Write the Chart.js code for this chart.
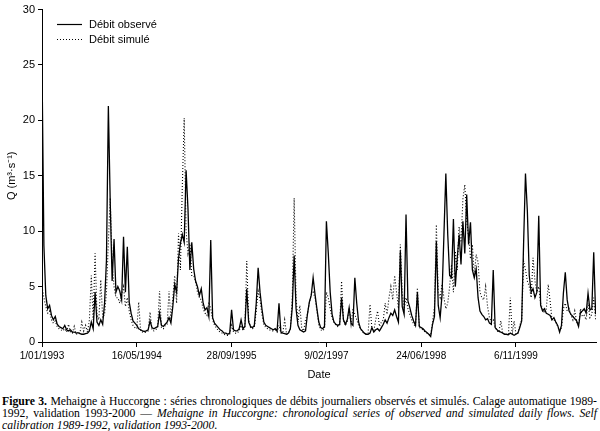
<!DOCTYPE html>
<html>
<head>
<meta charset="utf-8">
<script src="https://cdn.jsdelivr.net/npm/chart.js@4"></script>
<style>
  html, body { margin: 0; padding: 0; background: #fff; overflow: hidden; }
  #wrap { width: 600px; height: 431px; position: relative; }
  #caption { font-family: "Liberation Serif", "Times New Roman", serif; font-size: 11.7px; line-height: 12px; color: #000; padding: 0 3px 0 2px; margin-top: 6px; }
  .jl { text-align: justify; text-align-last: justify; white-space: nowrap; }
</style>
</head>
<body>
<div id="wrap">
  <canvas id="myChart" width="600" height="390"></canvas>
  <div id="caption">
    <div class="jl"><b>Figure 3.</b> Mehaigne à Huccorgne : séries chronologiques de débits journaliers observés et simulés. Calage automatique 1989-</div>
    <div class="jl">1992, validation 1993-2000 — <i>Mehaigne in Huccorgne: chronological series of observed and simulated daily flows. Self</i></div>
    <div><i>calibration 1989-1992, validation 1993-2000</i>.</div>
  </div>
</div>
<script>
'use strict'

// one value every 10 days from 1/01/1993 (m3/s)
let stepDays = 10;

let observed = [
  25.0, 8.7, 4.2, 3.0, 3.3, 2.4, 2.0, 2.3, 1.6, 1.4,
  1.3, 1.2, 1.5, 1.1, 1.0, 1.1, 0.9, 0.9, 0.8, 0.85,
  0.75, 0.7, 0.7, 0.75, 0.8, 1.0, 1.8, 1.2, 4.5, 1.8,
  1.5, 2.0, 1.6, 3.5, 7.4, 21.3, 12.5, 5.5, 9.3, 4.5,
  5.0, 4.6, 3.8, 9.5, 4.5, 8.6, 3.6, 2.6, 1.9, 1.7,
  1.5, 1.2, 1.1, 1.0, 0.95, 1.0, 1.1, 1.9, 1.3, 1.2,
  1.3, 1.4, 2.6, 1.5, 1.4, 1.6, 1.8, 2.2, 1.7, 3.2,
  5.2, 4.5, 7.5, 8.9, 9.7, 9.0, 15.5, 12.0, 6.5, 9.0,
  6.6, 5.5, 5.0, 4.2, 4.8, 3.5, 2.9, 3.1, 2.3, 9.2,
  2.2, 1.7, 1.5, 1.3, 1.1, 1.0, 0.8, 0.8, 0.7, 0.8,
  2.9, 1.1, 1.0, 1.0, 1.2, 2.0, 1.2, 1.4, 4.8, 1.8,
  1.4, 1.3, 1.5, 3.5, 6.7, 4.5, 3.0, 1.8, 1.5, 1.4,
  1.3, 1.2, 1.1, 1.2, 1.0, 3.5, 0.9, 0.8, 0.75, 0.7,
  0.8, 1.2, 3.1, 7.8, 3.0, 1.5, 1.1, 1.0, 0.9, 1.0,
  2.5, 3.6, 4.2, 5.8, 4.3, 3.0, 1.8, 1.3, 1.2, 1.4,
  10.9, 8.0, 4.5, 2.5, 1.8, 1.6, 1.5, 1.6, 4.0, 2.0,
  1.6, 2.0, 3.1, 1.7, 1.5, 5.8, 3.5, 1.8, 1.2, 1.0,
  0.8, 0.7, 0.7, 0.8, 1.3, 0.9, 1.1, 1.2, 1.0, 1.3,
  1.6, 2.0, 1.7, 2.2, 2.6, 2.4, 2.9, 2.3, 1.8, 8.2,
  3.2, 2.5, 11.5, 3.7, 3.1, 2.4, 1.9, 1.5, 4.5, 1.4,
  1.3, 1.2, 1.0, 0.85, 0.7, 0.5, 1.6, 2.3, 9.1, 3.3,
  2.2, 4.3, 9.7, 15.2, 9.7, 6.0, 5.8, 11.1, 5.0, 7.5,
  9.7, 7.0, 10.9, 8.0, 13.3, 8.8, 10.8, 6.5, 5.8, 6.6,
  4.0, 2.8, 2.5, 2.3, 2.0, 2.1, 1.7, 1.6, 6.5, 1.3,
  1.1, 0.95, 0.9, 0.8, 0.7, 0.7, 0.65, 0.8, 0.7, 0.6,
  0.7, 0.8, 1.3, 1.9, 8.8, 15.2, 11.8, 6.0, 4.5, 4.8,
  4.0, 4.5, 11.4, 3.3, 2.8, 3.0, 2.6, 2.5, 2.4, 2.0,
  2.2, 1.8, 1.5, 0.9, 1.5, 4.4, 6.3, 3.8, 2.8, 2.5,
  2.3, 2.1, 1.9, 1.4, 2.7, 2.8, 3.0, 2.6, 4.4, 2.9,
  3.0, 8.1, 2.5
];

let simulated = [
  5.0, 4.0, 3.2, 2.6, 2.8, 2.0, 1.7, 1.9, 1.4, 1.2,
  1.1, 1.0, 1.2, 0.9, 1.6, 0.9, 0.8, 1.4, 0.7, 0.8,
  0.8, 1.8, 1.0, 1.5, 0.9, 2.0, 6.0, 2.0, 8.0, 2.5,
  2.0, 5.6, 2.2, 2.5, 4.5, 9.0, 13.0, 7.0, 5.0, 4.0,
  4.0, 3.5, 4.3, 5.0, 3.2, 4.0, 2.8, 2.0, 1.5, 1.3,
  1.2, 3.6, 1.0, 0.9, 0.85, 0.9, 1.0, 2.7, 1.1, 1.0,
  1.1, 1.3, 4.6, 1.3, 1.2, 1.5, 1.6, 4.6, 2.0, 4.0,
  6.0, 3.5, 9.8, 6.5, 14.0, 20.2, 10.0, 8.0, 8.9, 6.0,
  6.0, 5.5, 4.5, 4.0, 3.8, 3.0, 2.6, 2.4, 3.6, 3.0,
  2.0, 1.5, 1.3, 1.0, 0.9, 0.8, 0.7, 0.6, 0.6, 0.7,
  1.5, 0.9, 0.8, 0.8, 1.0, 1.5, 1.0, 1.3, 7.3, 2.0,
  1.3, 1.2, 1.3, 2.8, 4.6, 3.8, 2.5, 1.6, 1.3, 1.2,
  1.1, 1.0, 1.0, 1.1, 0.9, 1.5, 0.8, 0.8, 2.0, 0.7,
  0.8, 1.2, 4.0, 13.0, 4.0, 1.8, 3.3, 1.2, 1.0, 2.0,
  2.5, 3.5, 4.3, 4.5, 4.0, 2.8, 1.6, 1.1, 1.0, 1.2,
  4.5, 4.0, 3.0, 2.2, 1.8, 1.5, 1.4, 1.5, 5.5, 2.0,
  1.5, 1.8, 3.1, 1.6, 3.0, 2.5, 2.0, 1.5, 1.2, 0.9,
  0.8, 0.7, 0.8, 3.4, 1.2, 1.0, 2.0, 2.8, 1.4, 1.8,
  2.0, 3.5, 2.5, 4.0, 5.0, 3.8, 6.0, 4.5, 3.0, 8.8,
  4.5, 3.0, 4.0, 3.0, 2.5, 2.0, 1.6, 1.4, 4.9, 1.3,
  1.2, 1.1, 0.9, 0.8, 0.7, 0.6, 1.8, 3.2, 10.6, 4.5,
  4.0, 5.2, 4.0, 3.0, 3.5, 5.0, 7.0, 4.5, 8.2, 6.5,
  10.4, 9.0, 12.9, 14.2, 11.0, 9.5, 7.5, 8.8, 6.0, 7.9,
  7.2, 4.5, 4.0, 3.8, 5.0, 3.2, 2.2, 1.8, 2.0, 1.4,
  1.0, 0.9, 1.9, 0.8, 0.7, 0.7, 0.6, 4.0, 0.7, 1.9,
  0.7, 0.8, 1.5, 2.0, 7.3, 6.5, 5.5, 5.0, 4.0, 7.6,
  5.5, 4.5, 5.0, 3.5, 3.0, 2.6, 3.0, 5.2, 3.7, 2.0,
  2.0, 1.8, 1.4, 1.0, 1.3, 3.0, 3.5, 2.8, 3.0, 2.4,
  2.0, 2.8, 1.8, 1.5, 3.0, 2.3, 2.4, 2.0, 3.5, 2.2,
  2.5, 4.0, 2.0
];

// x axis: days since 1/01/1993
let tickDays = [0, 500, 1000, 1500, 2000, 2500];
let tickLabels = ['1/01/1993', '16/05/1994', '28/09/1995', '9/02/1997', '24/06/1998', '6/11/1999'];
let lastDay = 2922;

let yTicks = [0, 5, 10, 15, 20, 25, 30];

function toPoints(values) {
  let pts = [];
  for (let i = 0; i < values.length; i++) {
    pts.push({ x: i * stepDays, y: values[i] });
  }
  return pts;
}

let font = '"Liberation Sans", Arial, Helvetica, sans-serif';

// legend drawn inside the plot, top left
let insideLegend = {
  id: 'insideLegend',
  afterDraw(chart) {
    let ctx = chart.ctx;
    ctx.save();
    chart.data.datasets.forEach(function (ds, k) {
      let y = 24.5 + k * 15;
      ctx.strokeStyle = '#000';
      ctx.lineWidth = 1.2;
      ctx.setLineDash(ds.borderDash || []);
      ctx.beginPath();
      ctx.moveTo(57, y);
      ctx.lineTo(82, y);
      ctx.stroke();
      ctx.setLineDash([]);
      ctx.fillStyle = '#000';
      ctx.font = '11px ' + font;
      ctx.textBaseline = 'middle';
      ctx.fillText(ds.label, 89, y);
    });
    ctx.restore();
  }
};

function viewChart() {
  let ctx = document.getElementById('myChart').getContext('2d');
  let chart = new Chart(ctx, {
    type: 'line',
    data: {
      datasets: [{
        label: 'Débit observé',
        data: toPoints(observed),
        borderColor: '#000',
        borderWidth: 1.3,
        pointRadius: 0,
        tension: 0,
        fill: false
      },
      {
        label: 'Débit simulé',
        data: toPoints(simulated),
        borderColor: '#000',
        borderWidth: 1.1,
        borderDash: [1, 2],
        pointRadius: 0,
        tension: 0,
        fill: false
      }]
    },
    options: {
      responsive: false,
      animation: false,
      layout: { padding: { top: 7, right: 4, left: 0, bottom: 0 } },
      plugins: {
        legend: { display: false },
        tooltip: { enabled: false }
      },
      scales: {
        x: {
          type: 'linear',
          min: 0,
          max: lastDay,
          afterFit(scale) { scale.height = 48; },
          afterBuildTicks(scale) {
            scale.ticks = tickDays.map(function (d) { return { value: d }; });
          },
          ticks: {
            autoSkip: false,
            maxRotation: 0,
            padding: 3,
            color: '#000',
            font: { family: font, size: 10 },
            callback(value) {
              let k = tickDays.indexOf(value);
              return k >= 0 ? tickLabels[k] : '';
            }
          },
          grid: { display: true, drawOnChartArea: false, drawTicks: true, tickLength: 5, color: '#000' },
          border: { display: true, color: '#000', width: 1 },
          title: { display: true, text: 'Date', color: '#000', font: { family: font, size: 11 }, padding: { top: 4, bottom: 8 } }
        },
        y: {
          min: 0,
          max: 30,
          afterFit(scale) { scale.width = 42; },
          afterBuildTicks(scale) {
            scale.ticks = yTicks.map(function (v) { return { value: v }; });
          },
          ticks: {
            padding: 3,
            color: '#000',
            font: { family: font, size: 11 }
          },
          grid: { display: true, drawOnChartArea: false, drawTicks: true, tickLength: 4, color: '#000' },
          border: { display: true, color: '#000', width: 1 },
          title: { display: true, text: 'Q (m³·s⁻¹)', color: '#000', font: { family: font, size: 11 }, padding: { top: 5, bottom: 0 } }
        }
      }
    },
    plugins: [insideLegend]
  });
}

viewChart();
</script>
</body>
</html>
